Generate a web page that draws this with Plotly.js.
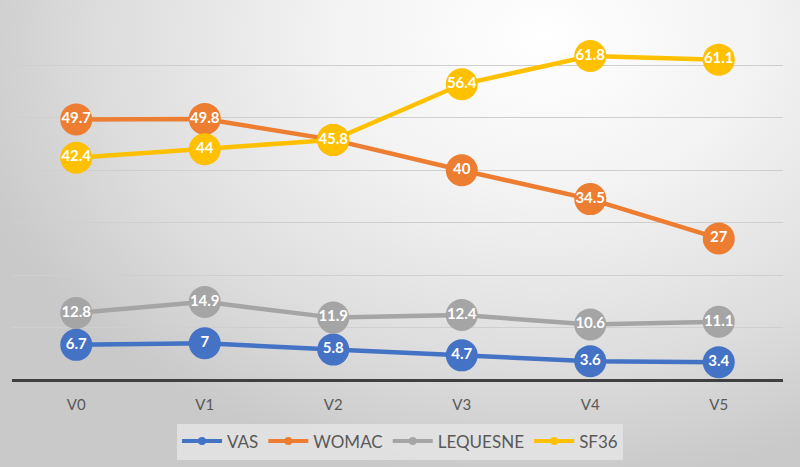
<!DOCTYPE html>
<html>
<head>
<meta charset="utf-8">
<script src="https://cdn.plot.ly/plotly-3.0.1.min.js"></script>
<style>
html,body{margin:0;padding:0;}
#chart{width:800px;height:467px;background:radial-gradient(ellipse 75% 95% at 68% 8%, #ffffff 0%, #f3f3f3 35%, #dcdcdc 75%, #c9c9c9 100%);}
</style>
</head>
<body>
<div id="chart"></div>
<script>
const categories = ["V0","V1","V2","V3","V4","V5"];
const vas      = [6.7, 7, 5.8, 4.7, 3.6, 3.4];
const womac    = [49.7, 49.8, 45.8, 40, 34.5, 27];
const lequesne = [12.8, 14.9, 11.9, 12.4, 10.6, 11.1];
const sf36     = [42.4, 44, 45.8, 56.4, 61.8, 61.1];
const seriesNames = ["VAS","WOMAC","LEQUESNE","SF36"];
const seriesData = [vas, womac, lequesne, sf36];
const colors = ["#4472C4","#ED7D31","#A5A5A5","#FFC000"];

const traces = seriesData.map((vals, i) => ({
  type: "scatter",
  mode: "lines+markers+text",
  name: seriesNames[i],
  x: categories,
  y: vals,
  text: vals.map(v => String(v)),
  textposition: "middle center",
  textfont: {family: "Lato, 'Open Sans', sans-serif", size: 15, color: "#ffffff", weight: "bold"},
  line: {color: colors[i], width: 4.5},
  marker: {color: colors[i], size: 32},
  cliponaxis: false,
  showlegend: false,
  hoverinfo: "skip"
}));

// legend entries (small marker on line, as in the reference legend)
const legendTraces = seriesNames.map((n, i) => ({
  type: "scatter",
  mode: "lines+markers",
  name: n,
  x: [categories[0]],
  y: [null],
  line: {color: colors[i], width: 4},
  marker: {color: colors[i], size: 8},
  showlegend: true,
  hoverinfo: "skip"
}));

const layout = {
  width: 800, height: 467,
  paper_bgcolor: "rgba(0,0,0,0)",
  plot_bgcolor: "rgba(0,0,0,0)",
  margin: {l: 12, r: 17, t: 13, b: 87, autoexpand: false},
  font: {family: "Lato, 'Open Sans', sans-serif", color: "#595959"},
  xaxis: {
    type: "category",
    range: [-0.5, 5.5],
    showgrid: false,
    zeroline: false,
    showline: false,
    ticks: "",
    tickfont: {size: 15, color: "#595959"},
    ticklabelstandoff: 14,
    fixedrange: true
  },
  yaxis: {
    range: [0, 70],
    dtick: 10,
    showticklabels: false,
    showgrid: true,
    gridcolor: "#cfcfcf",
    gridwidth: 1,
    zeroline: true,
    zerolinecolor: "#404040",
    zerolinewidth: 3,
    ticks: "",
    fixedrange: true
  },
  showlegend: true,
  legend: {
    orientation: "h",
    xref: "container", yref: "container",
    x: 0.5, xanchor: "center",
    y: 0.093, yanchor: "top",
    bgcolor: "rgba(228,228,228,0.85)",
    font: {size: 17, color: "#595959"},
    itemwidth: 40,
    traceorder: "normal"
  }
};

Plotly.newPlot("chart", traces.concat(legendTraces), layout, {staticPlot: true, displayModeBar: false});
</script>
</body>
</html>
